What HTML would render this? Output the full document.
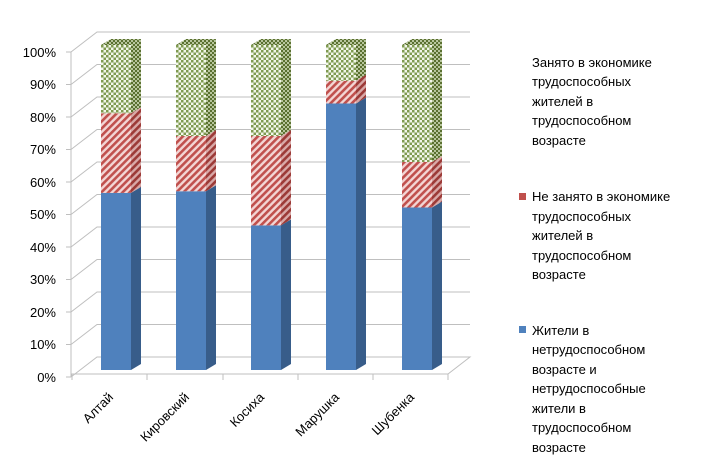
<!DOCTYPE html>
<html><head><meta charset="utf-8"><style>
body{margin:0;background:#fff;}
svg{display:block;font-family:"Liberation Sans",sans-serif;}
</style></head><body>
<svg width="715" height="471" viewBox="0 0 715 471" xmlns="http://www.w3.org/2000/svg">
<defs>
<pattern id="chk" width="5" height="5" patternUnits="userSpaceOnUse">
<rect width="5" height="5" fill="#f2f6ea"/>
<rect width="2.5" height="2.5" fill="#7f9a50"/><rect x="2.5" y="2.5" width="2.5" height="2.5" fill="#7f9a50"/>
</pattern>
<pattern id="chk2" width="4" height="4" patternUnits="userSpaceOnUse">
<rect width="4" height="4" fill="#b7c59c"/>
<rect width="2" height="2" fill="#5a7030"/><rect x="2" y="2" width="2" height="2" fill="#5a7030"/>
</pattern>
<pattern id="str" width="5" height="5" patternUnits="userSpaceOnUse" patternTransform="rotate(-45)">
<rect width="5" height="5" fill="#f3d6d5"/><rect width="5" height="2.6" fill="#c0504d"/>
</pattern>
<pattern id="str2" width="5" height="5" patternUnits="userSpaceOnUse" patternTransform="rotate(-45)">
<rect width="5" height="5" fill="#d9a9a8"/><rect width="5" height="2.6" fill="#9c3a37"/>
</pattern>
</defs>
<g stroke="#bfbfbf" stroke-width="1" fill="none">
<path d="M71,52 V377"/>
<path d="M71,52 L97,32 H470"/>
<path d="M71,84.5 L97,64.5 H470"/>
<path d="M71,117 L97,97 H470"/>
<path d="M71,149.5 L97,129.5 H470"/>
<path d="M71,182 L97,162 H470"/>
<path d="M71,214.5 L97,194.5 H470"/>
<path d="M71,247 L97,227 H470"/>
<path d="M71,279.5 L97,259.5 H470"/>
<path d="M71,312 L97,292 H470"/>
<path d="M71,344.5 L97,324.5 H470"/>
<path d="M71,377 L97,357 H470 L448,374 H71"/>
<path d="M66,52h5M66,84.5h5M66,117h5M66,149.5h5M66,182h5M66,214.5h5M66,247h5M66,279.5h5M66,312h5M66,344.5h5M66,377h5"/>
<path d="M72,374v6M147,374v6M223,374v6M298,374v6M373,374v6M448,374v6"/>
</g>
<g font-size="13" fill="#000" text-anchor="end">
<text x="56" y="57">100%</text><text x="56" y="89">90%</text><text x="56" y="122">80%</text>
<text x="56" y="154">70%</text><text x="56" y="187">60%</text><text x="56" y="219">50%</text>
<text x="56" y="252">40%</text><text x="56" y="284">30%</text><text x="56" y="317">20%</text>
<text x="56" y="349">10%</text><text x="56" y="382">0%</text>
</g>

<g transform="translate(101,0)">
<rect x="0" y="192.9" width="30" height="177.1" fill="#4f81bd"/>
<polygon points="30,370 40,364 40,186.9 30,192.9" fill="#385d8a"/>
<rect x="0" y="113.25" width="30" height="79.65" fill="url(#str)"/>
<polygon points="30,192.9 40,186.9 40,107.25 30,113.25" fill="url(#str2)"/>
<rect x="0" y="45" width="30" height="68.25" fill="url(#chk)"/>
<polygon points="30,113.25 40,107.25 40,39 30,45" fill="url(#chk2)"/>
<polygon points="0,45 10,39 40,39 30,45" fill="url(#chk2)"/>
</g>
<g transform="translate(176,0)">
<rect x="0" y="191.25" width="30" height="178.75" fill="#4f81bd"/>
<polygon points="30,370 40,364 40,185.25 30,191.25" fill="#385d8a"/>
<rect x="0" y="136" width="30" height="55.25" fill="url(#str)"/>
<polygon points="30,191.25 40,185.25 40,130 30,136" fill="url(#str2)"/>
<rect x="0" y="45" width="30" height="91" fill="url(#chk)"/>
<polygon points="30,136 40,130 40,39 30,45" fill="url(#chk2)"/>
<polygon points="0,45 10,39 40,39 30,45" fill="url(#chk2)"/>
</g>
<g transform="translate(251,0)">
<rect x="0" y="225.4" width="30" height="144.6" fill="#4f81bd"/>
<polygon points="30,370 40,364 40,219.4 30,225.4" fill="#385d8a"/>
<rect x="0" y="136" width="30" height="89.4" fill="url(#str)"/>
<polygon points="30,225.4 40,219.4 40,130 30,136" fill="url(#str2)"/>
<rect x="0" y="45" width="30" height="91" fill="url(#chk)"/>
<polygon points="30,136 40,130 40,39 30,45" fill="url(#chk2)"/>
<polygon points="0,45 10,39 40,39 30,45" fill="url(#chk2)"/>
</g>
<g transform="translate(326,0)">
<rect x="0" y="103.5" width="30" height="266.5" fill="#4f81bd"/>
<polygon points="30,370 40,364 40,97.5 30,103.5" fill="#385d8a"/>
<rect x="0" y="80.75" width="30" height="22.75" fill="url(#str)"/>
<polygon points="30,103.5 40,97.5 40,74.75 30,80.75" fill="url(#str2)"/>
<rect x="0" y="45" width="30" height="35.75" fill="url(#chk)"/>
<polygon points="30,80.75 40,74.75 40,39 30,45" fill="url(#chk2)"/>
<polygon points="0,45 10,39 40,39 30,45" fill="url(#chk2)"/>
</g>
<g transform="translate(402,0)">
<rect x="0" y="207.5" width="30" height="162.5" fill="#4f81bd"/>
<polygon points="30,370 40,364 40,201.5 30,207.5" fill="#385d8a"/>
<rect x="0" y="162" width="30" height="45.5" fill="url(#str)"/>
<polygon points="30,207.5 40,201.5 40,156 30,162" fill="url(#str2)"/>
<rect x="0" y="45" width="30" height="117" fill="url(#chk)"/>
<polygon points="30,162 40,156 40,39 30,45" fill="url(#chk2)"/>
<polygon points="0,45 10,39 40,39 30,45" fill="url(#chk2)"/>
</g>

<g font-size="13" fill="#000" text-anchor="end">
<text transform="translate(114,398) rotate(-45)">Алтай</text>
<text transform="translate(190,398) rotate(-45)">Кировский</text>
<text transform="translate(265,398) rotate(-45)">Косиха</text>
<text transform="translate(340,398) rotate(-45)">Марушка</text>
<text transform="translate(415,398) rotate(-45)">Шубенка</text>
</g>
<g font-size="13" fill="#000">
<text x="532" y="67">Занято в экономике</text>
<text x="532" y="86">трудоспособных</text>
<text x="532" y="106">жителей в</text>
<text x="532" y="125">трудоспособном</text>
<text x="532" y="145">возрасте</text>
<rect x="519" y="193" width="7" height="7" fill="#c0504d"/>
<text x="532" y="201">Не занято в экономике</text>
<text x="532" y="221">трудоспособных</text>
<text x="532" y="240">жителей в</text>
<text x="532" y="260">трудоспособном</text>
<text x="532" y="279">возрасте</text>
<rect x="519" y="326" width="7" height="7" fill="#4f81bd"/>
<text x="532" y="335">Жители в</text>
<text x="532" y="354">нетрудоспособном</text>
<text x="532" y="374">возрасте и</text>
<text x="532" y="393">нетрудоспособные</text>
<text x="532" y="413">жители в</text>
<text x="532" y="432">трудоспособном</text>
<text x="532" y="452">возрасте</text>
</g>
</svg>
</body></html>
